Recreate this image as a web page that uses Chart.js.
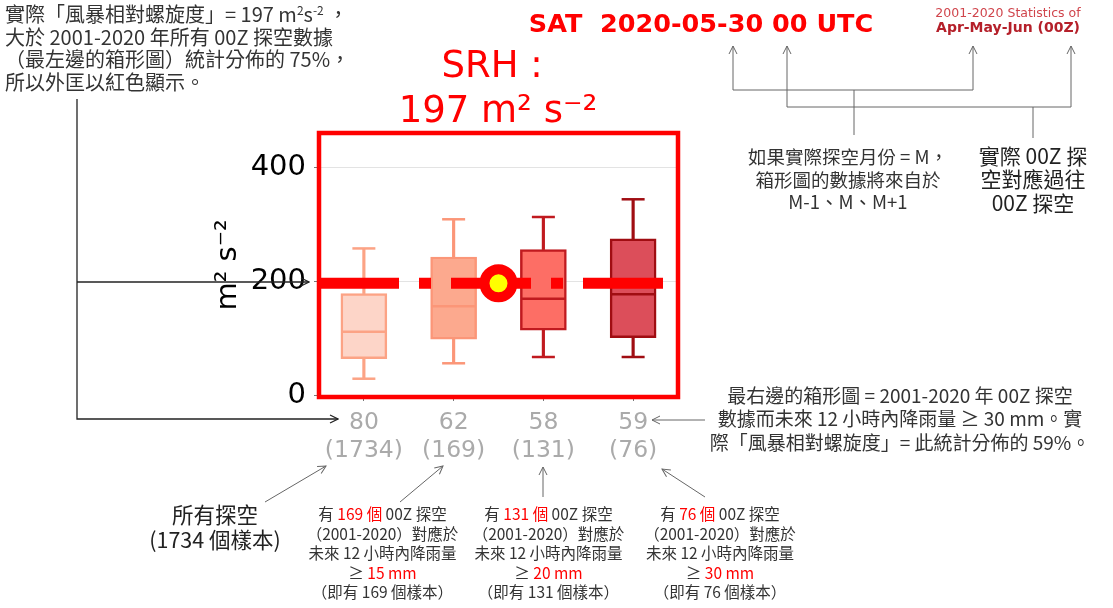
<!DOCTYPE html>
<html lang="zh-Hant">
<head>
<meta charset="utf-8">
<script src="https://cdn.jsdelivr.net/npm/chart.js@4.4.1/dist/chart.umd.min.js"></script>
<style>
body{margin:0;background:#fff;width:1113px;height:608px;overflow:hidden;position:relative;font-family:"Noto Sans CJK TC",sans-serif;color:#222}
#wrap{position:absolute;left:0;top:0;width:996px;height:608px}
.t{position:absolute;white-space:nowrap}
.c{transform:translateX(-50%);text-align:center}
.dv{font-family:"DejaVu Sans",sans-serif}
.r{color:#f00}
sup{font-size:0.6em;line-height:0;vertical-align:0.55em}
svg{position:absolute;left:0;top:0}
</style>
</head>
<body>
<div id="wrap"><canvas id="box"></canvas></div>

<svg width="1113" height="608">
  <defs>
    <marker id="ahDark" markerWidth="10" markerHeight="10" refX="9" refY="5" orient="auto" markerUnits="userSpaceOnUse">
      <path d="M1,1 L9,5 L1,9" fill="none" stroke="#222" stroke-width="1.2"/>
    </marker>
    <marker id="ahGray" markerWidth="10" markerHeight="10" refX="9" refY="5" orient="auto" markerUnits="userSpaceOnUse">
      <path d="M1,1 L9,5 L1,9" fill="none" stroke="#666" stroke-width="1"/>
    </marker>
  </defs>
  <g fill="none" stroke="#222" stroke-width="1.3">
    <polyline points="77,99 77,419 338,419" marker-end="url(#ahDark)"/>
    <line x1="77" y1="282" x2="309" y2="282" marker-end="url(#ahDark)"/>
  </g>
  <g fill="none" stroke="#666" stroke-width="1">
    <polyline points="733,90 973,90"/>
    <line x1="733" y1="90" x2="733" y2="46" marker-end="url(#ahGray)"/>
    <line x1="973" y1="90" x2="973" y2="46" marker-end="url(#ahGray)"/>
    <line x1="854" y1="90" x2="854" y2="135"/>
    <polyline points="787,107 1071,107"/>
    <line x1="787" y1="107" x2="787" y2="46" marker-end="url(#ahGray)"/>
    <line x1="1071" y1="107" x2="1071" y2="46" marker-end="url(#ahGray)"/>
    <line x1="1033" y1="107" x2="1033" y2="138"/>
    <line x1="705" y1="420" x2="652" y2="420" marker-end="url(#ahGray)"/>
    <line x1="265" y1="502" x2="326" y2="466" marker-end="url(#ahGray)"/>
    <line x1="400" y1="502" x2="443" y2="466" marker-end="url(#ahGray)"/>
    <line x1="543" y1="497" x2="543" y2="467" marker-end="url(#ahGray)"/>
    <line x1="705" y1="497" x2="662" y2="469" marker-end="url(#ahGray)"/>
  </g>
</svg>

<div class="t c dv" style="left:498px;top:43px;font-size:37px;line-height:44.5px;color:#f00">SRH :&nbsp;<br>197 m² s⁻²</div>

<div class="t" style="left:5px;top:3px;font-size:20px;line-height:22.5px;color:#333">
實際「風暴相對螺旋度」= 197 m<sup>2</sup>s<sup>-2</sup> ，<br>大於 2001-2020 年所有 00Z 探空數據<br>（最左邊的箱形圖）統計分佈的 75%，<br>所以外匡以紅色顯示。
</div>

<div class="t c dv" style="left:701px;top:7.5px;font-size:25.5px;line-height:30px;font-weight:bold;color:#f00;white-space:pre">SAT  2020-05-30 00 UTC</div>
<div class="t c dv" style="left:1008px;top:5px;font-size:12.5px;line-height:15px;color:#d0454c">2001-2020 Statistics of</div>
<div class="t c dv" style="left:1008px;top:19px;font-size:14px;line-height:17px;font-weight:bold;color:#b5202a">Apr-May-Jun (00Z)</div>

<div class="t c" style="left:848px;top:145px;font-size:18.5px;line-height:22.5px;color:#333">如果實際探空月份 = M，<br>箱形圖的數據將來自於<br>M-1、M、M+1</div>
<div class="t c" style="left:1033px;top:144px;font-size:21px;line-height:23.3px;color:#222">實際 00Z 探<br>空對應過往<br>00Z 探空</div>

<div class="t c" style="left:900px;top:382.5px;font-size:19px;line-height:23.5px;color:#333">最右邊的箱形圖 = 2001-2020 年 00Z 探空<br>數據而未來 12 小時內降雨量 ≥ 30 mm。實<br>際「風暴相對螺旋度」= 此統計分佈的 59%。</div>

<div class="t c" style="left:215px;top:501px;font-size:21.5px;line-height:25px;color:#222">所有探空<br>(1734 個樣本)</div>

<div class="t c" style="left:382.5px;top:504px;font-size:15.5px;line-height:19.6px;color:#333">有 <span class="r">169 個</span> 00Z 探空<br>（2001-2020）對應於<br>未來 12 小時內降雨量<br>≥ <span class="r">15 mm</span><br>（即有 169 個樣本）</div>
<div class="t c" style="left:548.5px;top:504px;font-size:15.5px;line-height:19.6px;color:#333">有 <span class="r">131 個</span> 00Z 探空<br>（2001-2020）對應於<br>未來 12 小時內降雨量<br>≥ <span class="r">20 mm</span><br>（即有 131 個樣本）</div>
<div class="t c" style="left:720px;top:504px;font-size:15.5px;line-height:19.6px;color:#333">有 <span class="r">76 個</span> 00Z 探空<br>（2001-2020）對應於<br>未來 12 小時內降雨量<br>≥ <span class="r">30 mm</span><br>（即有 76 個樣本）</div>

<script>
// box plot statistics, one entry per group
const groups = [0, 1, 2, 3]
const pctLabels = ['80', '62', '58', '59']
const sampleN = ['1734', '169', '131', '76']
const whiskLow = [30, 57, 68, 68]
const q1 = [65, 99, 115, 102]
const median = [112, 157, 170, 178]
const q3 = [179, 243, 256, 275]
const whiskHigh = [258, 309, 313, 344]
const yTicks = [0, 200, 400]

// observed value and where its marker sits on the x axis
const srhNow = 197
const obsX = 1.5

const boxFill = ['#fdd5c8', '#fca98e', '#fd6e65', '#dc4e5a']
const boxEdge = ['#fca385', '#fb9678', '#c01a1f', '#a00d12']

const frame = {
    id: 'frame',
    afterDraw(chart) {
        const {ctx, chartArea: a} = chart
        ctx.save()
        ctx.strokeStyle = '#ff0000'
        ctx.lineWidth = 4.5
        ctx.strokeRect(a.left, a.top, a.right - a.left, a.bottom - a.top)
        ctx.restore()
    }
}

const ctx = document.getElementById('box').getContext('2d')

new Chart(ctx, {
    type: 'bar',
    data: {
        datasets: [
            {
                type: 'scatter',
                order: 0,
                data: [{x: obsX, y: srhNow}],
                pointRadius: 14,
                pointBorderWidth: 10,
                borderColor: '#ff0000',
                backgroundColor: '#ffff00'
            },
            {
                type: 'line',
                order: 1,
                data: [{x: -0.5, y: srhNow}, {x: 3.5, y: srhNow}],
                borderColor: '#ff0000',
                borderWidth: 11,
                borderDash: [80, 20, 12, 20],
                borderCapStyle: 'butt',
                pointRadius: 0
            },
            {
                type: 'scatter',
                order: 2,
                data: groups.map(i => ({x: i, y: median[i]})),
                pointStyle: 'line',
                pointRadius: 22,
                pointBorderWidth: 2.5,
                borderColor: boxEdge
            },
            {
                type: 'scatter',
                order: 3,
                data: groups.map(i => ({x: i, y: whiskLow[i]})).concat(groups.map(i => ({x: i, y: whiskHigh[i]}))),
                pointStyle: 'line',
                pointRadius: 11.5,
                pointBorderWidth: 2.5,
                borderColor: boxEdge.concat(boxEdge)
            },
            {
                order: 4,
                data: groups.map(i => ({x: i, y: [q1[i], q3[i]]})),
                backgroundColor: boxFill,
                borderColor: boxEdge,
                borderWidth: 2.5,
                borderSkipped: false,
                barThickness: 46,
                grouped: false
            },
            {
                order: 5,
                data: groups.map(i => ({x: i, y: [whiskLow[i], q1[i]]})),
                backgroundColor: boxEdge,
                borderWidth: 0,
                barThickness: 2.5,
                grouped: false
            },
            {
                order: 5,
                data: groups.map(i => ({x: i, y: [q3[i], whiskHigh[i]]})),
                backgroundColor: boxEdge,
                borderWidth: 0,
                barThickness: 2.5,
                grouped: false
            }
        ]
    },
    options: {
        responsive: true,
        maintainAspectRatio: false,
        animation: false,
        layout: {
            padding: {left: 208, right: 318, top: 133, bottom: 131}
        },
        plugins: {
            legend: {display: false},
            tooltip: {enabled: false},
            title: {display: false}
        },
        scales: {
            x: {
                type: 'linear',
                min: -0.5,
                max: 3.5,
                offset: false,
                afterBuildTicks: s => { s.ticks = groups.map(v => ({value: v})) },
                afterFit: s => { s.height = 80 },
                grid: {drawOnChartArea: false, offset: false, tickLength: 4, tickColor: '#777'},
                border: {display: false},
                ticks: {
                    color: '#aaaaaa',
                    font: {family: 'DejaVu Sans', size: 23.5, lineHeight: 1.2},
                    padding: 8,
                    maxRotation: 0,
                    autoSkip: false,
                    callback: (v, i) => [pctLabels[i], '(' + sampleN[i] + ')']
                }
            },
            y: {
                min: -2,
                max: 460,
                afterBuildTicks: s => { s.ticks = yTicks.map(v => ({value: v})) },
                afterFit: s => { s.width = 111 },
                grid: {color: '#e3e3e3', tickLength: 5, tickColor: '#777'},
                border: {display: false},
                ticks: {
                    color: '#000',
                    font: {family: 'DejaVu Sans', size: 29},
                    padding: 8
                },
                title: {
                    display: true,
                    text: 'm² s⁻²',
                    color: '#000',
                    font: {family: 'DejaVu Sans', size: 29},
                    padding: {top: 3, bottom: 0}
                }
            }
        }
    },
    plugins: [frame]
})
</script>
</body>
</html>
